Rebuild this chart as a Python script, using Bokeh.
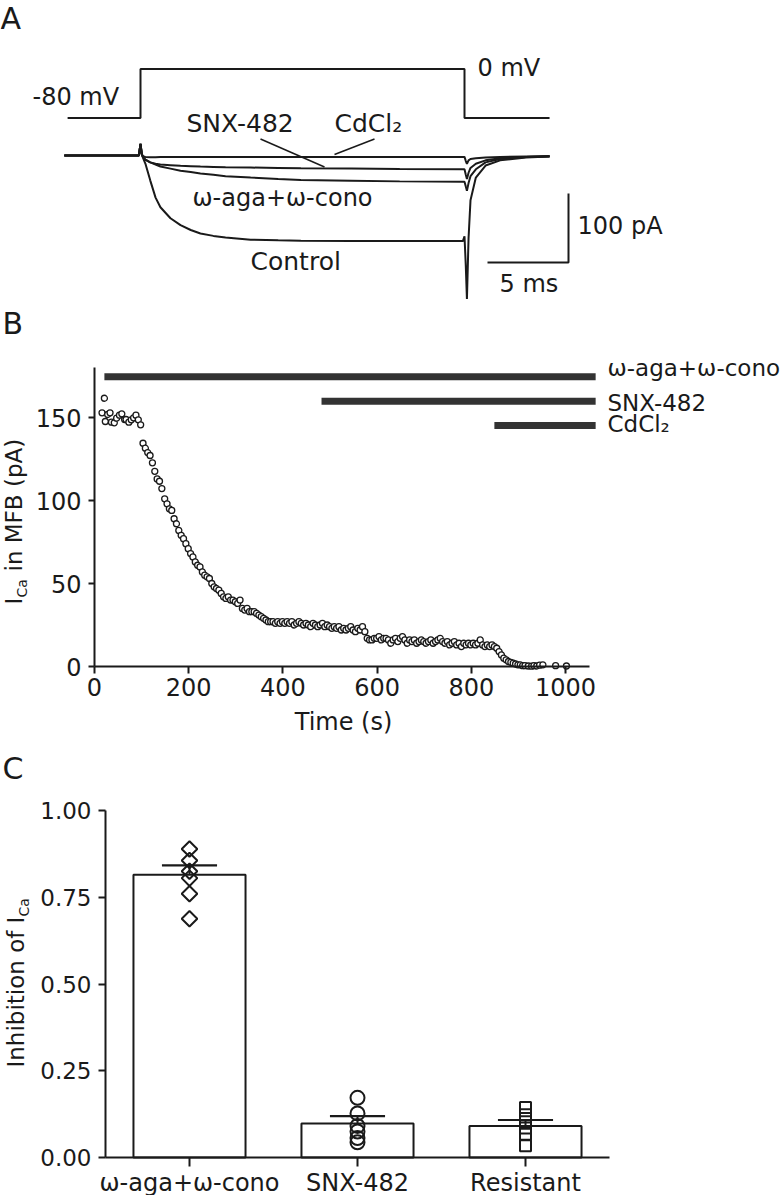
import numpy as np
from bokeh.plotting import figure
from bokeh.models import Range1d, Label, Arrow, FixedTicker, NumeralTickFormatter
from bokeh.layouts import column
from bokeh.embed import file_html
from bokeh.resources import INLINE

INK = "#1a1a1a"
FONT = "DejaVu Sans"
W = 780

# ---------------- Panel A data (ms, mV, pA) ----------------
step_t = [-4.5, 0, 0, 20, 20, 25.25]
step_mv = [-80, -80, 0, 0, -80, -80]

trace_t = [-4.7, -0.1, 0.0, 0.08, 0.15, 0.3, 0.6, 0.93, 1.23, 1.85, 2.47, 3.1, 3.7, 4.5,
           5.25, 6.8, 8.5, 9.9, 13.0, 16.0, 19.9, 20.0, 20.08, 20.15, 20.25, 20.37, 20.7,
           21.3, 22.2, 23.8, 25.25]
control_pa = [0, 0, 17, 2, -3, -11.6, -36, -61, -75, -91, -101, -108, -113, -116.5,
              -119, -122, -123, -123.5, -124, -124, -124, -117, -160, -208, -120, -65, -32,
              -14.5, -7, -3, -1.5]
aga_pa = [0, 0, 17, 2, -2, -6, -10, -13, -16, -19, -22, -24, -26, -28,
          -30, -32, -34, -35.5, -36.5, -37.5, -38, -38, -45, -51, -40, -30, -20,
          -10, -5, -2, -1]
snx_pa = [0, 0, 17, 2, -2, -6, -10, -12, -13, -14, -15, -15.5, -16, -16.5,
          -17, -17.5, -18, -18.5, -19, -19.5, -20, -20, -28, -34, -25, -18, -12,
          -7, -4, -2, -1]
cd_pa = [0, 0, 17, 2, -1, -2, -2.5, -2.5, -2, -2, -2, -2, -2, -2,
         -2, -2, -2, -2, -2, -2, -2, -2, -8, -12, -7, -5, -4,
         -3, -2, -1.5, -1]
scale_ms = 5
scale_pa = 100

# ---------------- Panel B data ----------------
time_s = [16, 21, 23, 28, 33, 36, 42, 47, 53, 58, 64, 67, 73, 78, 83, 88, 93, 98,
          103, 108, 113, 118, 123, 128, 133, 138, 143, 149,
          154, 159, 164, 169, 174, 179, 184, 189, 194, 199,
          204, 209, 214, 219, 224, 229, 234, 239, 244, 249,
          254, 259, 264, 269, 274, 279, 284, 289, 294, 299,
          304, 309, 314, 319, 324, 329, 334, 339, 344, 349,
          354, 359, 364, 369, 374, 379, 384, 389, 394, 399,
          404, 409, 414, 419, 424, 429, 434, 439, 444, 449,
          454, 459, 464, 469, 474, 479, 484, 489, 494, 499,
          504, 509, 514, 519, 524, 529, 534, 539, 544, 549,
          554, 559, 564, 569, 574, 579, 584, 589, 594, 599,
          604, 609, 614, 619, 624, 629, 634, 639, 644, 649,
          654, 659, 664, 669, 674, 679, 684, 689, 694, 699,
          704, 709, 714, 719, 724, 729, 734, 739, 744, 749,
          754, 759, 764, 769, 774, 779, 784, 789, 794, 799,
          804, 809, 814, 819, 824, 829, 834, 839, 844, 849,
          854, 859, 864, 869, 874, 879, 884, 889, 894, 899,
          904, 909, 914, 921, 928, 933, 939, 945, 952, 979, 1002]
ica_pa = [152.8, 161.6, 147.6, 151.8, 152.8, 147.2, 146.8, 149.6, 151.4, 152.2, 148.8, 148.8,
          147.2, 148.6, 149.8, 151.4, 148.6, 145.6,
          134.5, 131.5, 128.9, 127.1, 122.7, 117.6, 113.0, 111.6, 107.2, 101.0,
          98, 95, 94, 89, 86, 82, 79, 77, 74, 71,
          68, 66, 63, 61, 60, 57, 55, 54, 53, 50,
          48, 47, 46, 44, 42, 41, 42, 40, 40, 39,
          38, 40, 35, 34, 35, 33, 33, 33, 32, 31,
          30, 29, 28, 27, 27, 27, 26, 27, 26, 27,
          26, 27, 26, 27, 25, 26, 27, 26, 25, 26,
          25, 24, 26, 25, 24, 25, 26, 24, 25, 24,
          23, 24, 23, 24, 22, 23, 22, 23, 24, 22,
          21, 23, 22, 24, 21, 17, 16, 16, 17, 17,
          18, 16, 17, 17, 16, 14, 16, 17, 15, 17,
          18, 16, 14, 16, 15, 16, 14, 15, 16, 15,
          14, 15, 16, 14, 15, 16, 17, 15, 14, 15,
          13, 14, 15, 13, 14, 12, 14, 13, 14, 13,
          14, 13, 14, 16, 13, 12, 13, 12, 13, 12,
          11, 9, 7, 5, 4, 3, 2.5, 2, 1.5, 1,
          1, 0.5, 0.5, 0.3, 0.2, 0.5, 0.3, 0.8, 1, 0.5, 0.3]
drug_names = ["ω-aga+ω-cono", "SNX-482", "CdCl₂"]
drug_start = [21, 482, 849]
drug_end = [1064, 1064, 1064]
drug_level = [174.5, 159.8, 145.2]

# ---------------- Panel C data ----------------
groups = ["ω-aga+ω-cono", "SNX-482", "Resistant"]
means = [0.815, 0.098, 0.091]
sems = [0.027, 0.021, 0.017]
aga_pts = [0.889, 0.856, 0.825, 0.805, 0.760, 0.688]
snx_pts = [0.172, 0.127, 0.091, 0.075, 0.056, 0.044]
res_pts = [0.144, 0.123, 0.103, 0.085, 0.067, 0.034]


def lab(p, fx, fy, px, py, text, fs=24, angle=0.0, align="left"):
    """Place a text so that its glyph baseline lands at page position (px, py)."""
    off = min(0.4 * fs, 10.5)
    if angle:
        px = px - off
    else:
        py = py - off
    p.add_layout(Label(x=fx(px), y=fy(py), text=text, text_font=FONT,
                       text_font_size=f"{fs}px", text_color=INK, text_align=align,
                       text_baseline="alphabetic", angle=angle))


def style_axis(axx, tout, stand, fs):
    axx.axis_line_width = 2
    axx.axis_line_color = INK
    axx.major_tick_line_width = 2
    axx.major_tick_line_color = INK
    axx.major_tick_out = tout
    axx.major_tick_in = 0
    axx.minor_tick_line_color = None
    axx.major_label_text_font = FONT
    axx.major_label_text_font_size = fs
    axx.major_label_text_color = INK
    axx.major_label_standoff = stand


# ================= Panel A =================
def ax(px):
    return (px - 140) / 16.2


def ay(py):
    return (155 - py) / 0.69


A_TOP, A_BOT = 0, 302
pA = figure(width=W, height=A_BOT - A_TOP, x_range=Range1d(ax(0), ax(W)),
            y_range=Range1d(ay(A_BOT), ay(A_TOP)), output_backend="svg",
            toolbar_location=None, min_border=0, x_axis_location=None, y_axis_location=None)
pA.outline_line_color = None
pA.grid.visible = False
mv_top = (117.5 - A_TOP) / 0.6125 - 80
mv_bot = -80 - (A_BOT - 117.5) / 0.6125
pA.extra_y_ranges = {"mv": Range1d(mv_bot, mv_top)}
pA.line(step_t, step_mv, y_range_name="mv", line_width=2, line_color=INK)
for tr in (cd_pa, snx_pa, aga_pa, control_pa):
    pA.line(trace_t, tr, line_width=2, line_color=INK)
sb_x0 = ax(487)
sb_y0 = ay(262)
pA.line([sb_x0, sb_x0 + scale_ms, sb_x0 + scale_ms], [sb_y0, sb_y0, sb_y0 + scale_pa],
        line_width=2, line_color=INK)

lab(pA, ax, ay, 0, 28, "A", 30)
lab(pA, ax, ay, 32, 106, "-80 mV", 24)
lab(pA, ax, ay, 477, 77, "0 mV", 24)
lab(pA, ax, ay, 186, 133, "SNX-482", 25)
lab(pA, ax, ay, 334, 133, "CdCl₂", 25)
lab(pA, ax, ay, 192, 207, "ω-aga+ω-cono", 24)
lab(pA, ax, ay, 250, 271, "Control", 25)
lab(pA, ax, ay, 577, 235, "100 pA", 24)
lab(pA, ax, ay, 499, 293, "5 ms", 24)
pA.add_layout(Arrow(end=None, x_start=ax(260), y_start=ay(138.5), x_end=ax(324), y_end=ay(166.5),
                    line_width=1.5, line_color=INK))
pA.add_layout(Arrow(end=None, x_start=ax(374), y_start=ay(138.5), x_end=ax(334), y_end=ay(154),
                    line_width=1.5, line_color=INK))


# ================= Panel B =================
def bx(px):
    return (px - 94) / 0.471


def by(py):
    return (666 - py) / 1.66


B_TOP, B_BOT = 302, 742
pB = figure(width=W, height=B_BOT - B_TOP, x_range=Range1d(bx(0), bx(W)),
            y_range=Range1d(by(B_BOT), by(B_TOP)), output_backend="svg", toolbar_location=None,
            min_border=0)
pB.outline_line_color = None
pB.grid.visible = False
pB.xaxis.fixed_location = 0
pB.yaxis.fixed_location = 0
pB.xaxis.bounds = (0, 1051)
pB.yaxis.bounds = (0, 180)
pB.xaxis.ticker = FixedTicker(ticks=[0, 200, 400, 600, 800, 1000])
pB.yaxis.ticker = FixedTicker(ticks=[0, 50, 100, 150])
style_axis(pB.xaxis[0], 7, 4, "24px")
style_axis(pB.yaxis[0], 6, 7, "24px")

pB.segment(x0=drug_start, y0=drug_level, x1=drug_end, y1=drug_level, line_width=7,
           line_color="#333333", line_cap="butt")
pB.scatter(time_s, ica_pa, marker="circle", size=6, line_color=INK, line_width=1.3,
           fill_color="white")
legend_baseline = [377, 411.5, 433]
for name, base in zip(drug_names, legend_baseline):
    lab(pB, bx, by, 607, base, name, 23)
lab(pB, bx, by, 2, 333, "B", 30)
p0 = 604
lab(pB, bx, by, 23, p0, "I", 23, np.pi / 2)
lab(pB, bx, by, 27, p0 - 7, "Ca", 14, np.pi / 2)
lab(pB, bx, by, 23, p0 - 33, "in MFB (pA)", 23, np.pi / 2)
lab(pB, bx, by, 343, 731, "Time (s)", 24, 0.0, "center")


# ================= Panel C =================
def cx(px):
    return (px - 105) / 168


def cy(py):
    return (1157 - py) / 347


xpos = [i + 0.5 for i in range(len(groups))]
C_TOP, C_BOT = 742, 1195
pC = figure(width=W, height=C_BOT - C_TOP, x_range=Range1d(cx(0), cx(W)),
            y_range=Range1d(cy(C_BOT), cy(C_TOP)), output_backend="svg", toolbar_location=None,
            min_border=0)
pC.outline_line_color = None
pC.grid.visible = False
pC.xaxis.fixed_location = 0
pC.yaxis.fixed_location = 0
pC.xaxis.bounds = (0, len(groups))
pC.yaxis.bounds = (0, 1)
pC.xaxis.ticker = FixedTicker(ticks=xpos)
pC.xaxis.major_label_overrides = {x: g for x, g in zip(xpos, groups)}
pC.yaxis.ticker = FixedTicker(ticks=[0, 0.25, 0.5, 0.75, 1.0])
pC.yaxis.formatter = NumeralTickFormatter(format="0.00")
style_axis(pC.xaxis[0], 9, 2, "24px")
style_axis(pC.yaxis[0], 7, 7, "23px")

half_cap = 0.164
pC.vbar(x=xpos, top=means, width=0.667, fill_color="white", line_color=INK, line_width=2)
tops = [m + s for m, s in zip(means, sems)]
pC.segment(x0=xpos, y0=means, x1=xpos, y1=tops, line_width=2, line_color=INK)
pC.segment(x0=[x - half_cap for x in xpos], y0=tops, x1=[x + half_cap for x in xpos], y1=tops,
           line_width=2.2, line_color=INK)
pC.scatter(x=[xpos[0]] * len(aga_pts), y=aga_pts, marker="square", angle=np.pi / 4, size=11,
           fill_alpha=0, line_color=INK, line_width=2)
pC.scatter(x=[xpos[1]] * len(snx_pts), y=snx_pts, marker="circle", size=14,
           fill_alpha=0, line_color=INK, line_width=2)
pC.scatter(x=[xpos[2]] * len(res_pts), y=res_pts, marker="square", size=11,
           fill_alpha=0, line_color=INK, line_width=2)
lab(pC, cx, cy, 2, 778, "C", 30)
q0 = 1067
lab(pC, cx, cy, 25, q0, "Inhibition of", 23, np.pi / 2)
lab(pC, cx, cy, 25, q0 - 144, "I", 23, np.pi / 2)
lab(pC, cx, cy, 29, q0 - 151, "Ca", 14, np.pi / 2)

page = column(pA, pB, pC, spacing=0)
open("out.html", "w").write(file_html(page, INLINE))
